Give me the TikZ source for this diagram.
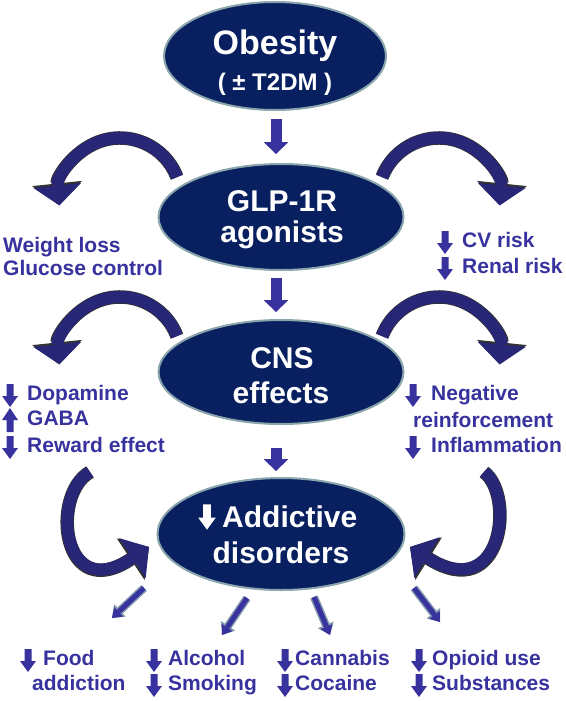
\documentclass[tikz,border=0pt]{standalone}
\usepackage{fontspec}
\setmainfont{Liberation Sans}
\usetikzlibrary{arrows.meta,shapes.geometric}

\definecolor{navy}{RGB}{8,32,96}
\definecolor{rim}{RGB}{138,166,172}
\definecolor{ink}{RGB}{55,50,158}
\definecolor{swoopblue}{RGB}{40,38,118}
\definecolor{slate}{RGB}{128,150,170}

\tikzset{
  ell/.style={ellipse, fill=navy, draw=rim, line width=2pt, inner sep=0pt},
  intext/.style={anchor=base, text=white, inner sep=0pt, font=\bfseries\fontsize{30}{36}\selectfont},
  side/.style={anchor=base west, text=ink, inner sep=0pt, font=\bfseries\fontsize{21}{25}\selectfont},
  vdown/.style={ink, line width=11pt, -{Triangle[width=25pt,length=12pt,line width=0pt]}},
  swoopedge/.style={black!80, line width=13.5pt, -{Triangle[width=50pt,length=22pt,line width=0pt]}},
  swoop/.style={swoopblue, line width=12pt, -{Triangle[width=48pt,length=20pt,line width=0pt]}},
  smalledge/.style={slate, line width=8pt, -{Triangle[width=17pt,length=11pt,line width=0pt]}},
  smallarr/.style={ink, line width=5pt, -{Triangle[width=13pt,length=9pt,line width=0pt]}},
  dnarr/.pic={\fill (-3.5,-16) -- (3.5,-16) -- (3.5,-4) -- (8,-4) -- (0,7) -- (-8,-4) -- (-3.5,-4) -- cycle;},
  uparr/.pic={\fill (-3.5,7) -- (3.5,7) -- (3.5,-5) -- (8,-5) -- (0,-17) -- (-8,-5) -- (-3.5,-5) -- cycle;}
}
\newcommand{\swoopdraw}[1]{\draw[swoopedge] #1; \draw[swoop] #1;}

\begin{document}
\begin{tikzpicture}[x=1pt, y=-1pt]
	\useasboundingbox (0,0) rectangle (565,701);
	% the four ellipses
	\node[ell, minimum width=222pt, minimum height=108pt] (obesity) at (275,56) {};
	\node[ell, minimum width=245pt, minimum height=106pt] (glp) at (281,217) {};
	\node[ell, minimum width=245pt, minimum height=104pt] (cns) at (281,372) {};
	\node[ell, minimum width=247pt, minimum height=112pt] (addict) at (281,534) {};
	\node[intext, font=\bfseries\fontsize{34}{40}\selectfont] (obesity1) at (275,55) {Obesity};
	\node[intext, font=\bfseries\fontsize{24}{28}\selectfont] (obesity2) at (275,90) {( ± T2DM )};
	\node[intext] (glp1) at (282,211) {GLP-1R};
	\node[intext] (glp2) at (282,242) {agonists};
	\node[intext] (cns1) at (282,368) {CNS};
	\node[intext] (cns2) at (281,403) {effects};
	\pic[white, scale=1.1] at (207,522) {dnarr};
	\node[intext, anchor=base west] (addict1) at (222,527) {Addictive};
	\node[intext] (addict2) at (281,563) {disorders};

	% straight arrows down the middle
	\coordinate (axis) at (276,0);
	\draw[vdown, shorten <=8pt, shorten >=9pt] (obesity.south -| axis) -- (glp.north -| axis);
	\draw[vdown, shorten <=7pt, shorten >=7pt] (glp.south -| axis) -- (cns.north -| axis);
	\draw[vdown, shorten <=23pt, shorten >=6pt] (cns.south -| axis) -- (addict.north -| axis);

	% curved arrows
	\coordinate (glpL) at (120,199);
	\coordinate (glpR) at (439,199);
	\coordinate (cnsL) at (120,358);
	\coordinate (cnsR) at (439,358);
	\coordinate (addL) at (90,472);
	\coordinate (addR) at (484,472);
	\swoopdraw{([shift={(-21:61)}]glpL) arc[start angle=-21, end angle=-186, radius=61]}
	\swoopdraw{([shift={(-159:61)}]glpR) arc[start angle=-159, end angle=6, radius=61]}
	\swoopdraw{([shift={(-21:61)}]cnsL) arc[start angle=-21, end angle=-186, radius=61]}
	\swoopdraw{([shift={(-159:61)}]cnsR) arc[start angle=-159, end angle=6, radius=61]}
	\swoopdraw{(addL) .. controls (50,495) and (62,605) .. (149,547)}
	\swoopdraw{(addR) .. controls (515,495) and (503,605) .. (410,547)}

	% side effects
	\node[side] (wl) at (3,252) {Weight loss};
	\node[side] (gc) at (3,275) {Glucose control};
	\pic[ink] at (445,247) {dnarr};
	\node[side] (cv) at (462,247) {CV risk};
	\pic[ink] at (445,273) {dnarr};
	\node[side] (renal) at (462,273) {Renal risk};

	\pic[ink] at (10,400) {dnarr};
	\node[side] (dopa) at (27,400) {Dopamine};
	\pic[ink] at (10,425) {uparr};
	\node[side] (gaba) at (27,425) {GABA};
	\pic[ink] at (10,452) {dnarr};
	\node[side] (reward) at (27,452) {Reward effect};
	\pic[ink] at (413,400) {dnarr};
	\node[side] (neg) at (431,400) {Negative};
	\node[side] (reinf) at (413,427) {reinforcement};
	\pic[ink] at (413,452) {dnarr};
	\node[side] (infl) at (431,452) {Inflammation};

	% small arrows to the disorders
	\coordinate (s1) at (144,588); \coordinate (t1) at (112,618);
	\coordinate (s2) at (247,598); \coordinate (t2) at (222,635);
	\coordinate (s3) at (314,597); \coordinate (t3) at (330,635);
	\coordinate (s4) at (414,588); \coordinate (t4) at (440,622);
	\foreach \i in {1,...,4} {
		\draw[smalledge] (s\i) -- (t\i);
		\draw[smallarr] (s\i) -- (t\i);
	}

	\pic[ink] at (28,665) {dnarr};
	\node[side] (food) at (43,665) {Food};
	\node[side] (addiction) at (32,690) {addiction};
	\pic[ink] at (154,665) {dnarr};
	\node[side] (alcohol) at (168,665) {Alcohol};
	\pic[ink] at (154,690) {dnarr};
	\node[side] (smoking) at (168,690) {Smoking};
	\pic[ink] at (285,665) {dnarr};
	\node[side] (cannabis) at (295,665) {Cannabis};
	\pic[ink] at (285,690) {dnarr};
	\node[side] (cocaine) at (295,690) {Cocaine};
	\pic[ink] at (419,665) {dnarr};
	\node[side] (opioid) at (432,665) {Opioid use};
	\pic[ink] at (419,690) {dnarr};
	\node[side] (subst) at (432,690) {Substances};
\end{tikzpicture}
\end{document}
